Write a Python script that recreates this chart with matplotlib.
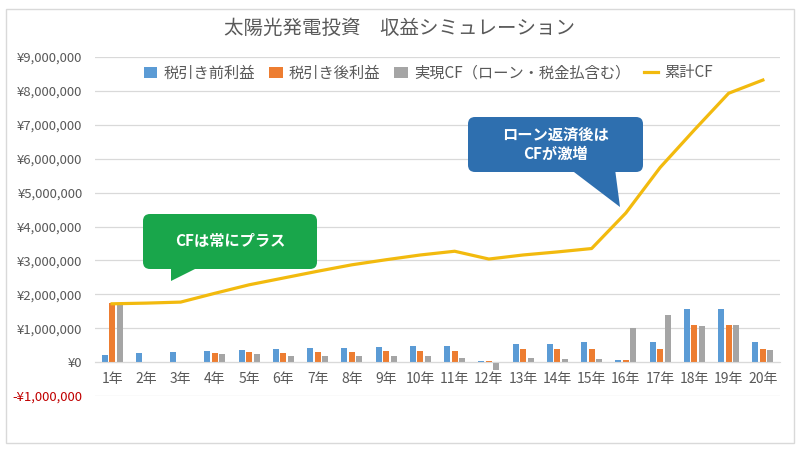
import matplotlib.pyplot as plt
import numpy as np
from matplotlib.patches import FancyBboxPatch, Polygon, Rectangle
from matplotlib.ticker import FuncFormatter

plt.rcParams['font.family'] = ['Noto Sans CJK JP', 'DejaVu Sans']

# data (yen)
years = [f"{i}年" for i in range(1, 21)]
pretax = [220000, 260000, 300000, 320000, 350000, 390000, 410000, 430000, 460000, 480000,
          480000, 20000, 520000, 540000, 580000, 70000, 580000, 1580000, 1580000, 580000]
aftertax = [1730000, 10000, 10000, 260000, 290000, 270000, 290000, 310000, 330000, 330000,
            330000, 20000, 380000, 380000, 400000, 50000, 400000, 1100000, 1100000, 400000]
real_cf = [1730000, 10000, 10000, 230000, 230000, 190000, 190000, 170000, 170000, 170000,
           130000, -220000, 110000, 90000, 90000, 1020000, 1380000, 1060000, 1080000, 370000]
cum_cf = [1720000, 1740000, 1770000, 2030000, 2280000, 2480000, 2680000, 2870000, 3020000, 3160000,
          3270000, 3040000, 3160000, 3250000, 3350000, 4400000, 5740000, 6850000, 7930000, 8320000]

labels = ['税引き前利益', '税引き後利益', '実現CF（ローン・税金払含む）', '累計CF']
colors = ['#5B9BD5', '#ED7D31', '#A5A5A5', '#F2BA0E']
text_gray = '#595959'

fig = plt.figure(figsize=(8, 4.5), dpi=100)
ax = fig.add_axes([95 / 800, 1 - 396 / 450, 685 / 800, 339 / 450])

x = np.arange(len(years))
w = 0.18
b1 = ax.bar(x - 0.22, pretax, w, color=colors[0], label=labels[0], zorder=2)
b2 = ax.bar(x, aftertax, w, color=colors[1], label=labels[1], zorder=2)
b3 = ax.bar(x + 0.22, real_cf, w, color=colors[2], label=labels[2], zorder=2)
ln, = ax.plot(x, cum_cf, color=colors[3], lw=2.3, label=labels[3], zorder=3)

ax.set_xlim(-0.5, len(years) - 0.5)
ax.set_ylim(-1000000, 9000000)
ax.set_yticks(np.arange(-1000000, 9000001, 1000000))


def yen(v, pos):
    if v < 0:
        return '-¥{:,.0f}'.format(-v)
    return '¥{:,.0f}'.format(v)


ax.yaxis.set_major_formatter(FuncFormatter(yen))
ax.grid(axis='y', color='#D9D9D9', lw=0.9, zorder=0)
for s in ['top', 'right', 'left']:
    ax.spines[s].set_visible(False)
ax.spines['bottom'].set_position(('data', 0))
ax.spines['bottom'].set_color('#D9D9D9')
ax.set_xticks(x)
ax.set_xticklabels(years)
ax.tick_params(axis='x', length=0, pad=7, labelsize=10, labelcolor=text_gray)
ax.tick_params(axis='y', length=0, pad=9, labelsize=9.5, labelcolor=text_gray)
for t in ax.get_yticklabels():
    if t.get_text().startswith('-'):
        t.set_color('#C00000')

fig.text(0.5, 1 - 28 / 450, '太陽光発電投資　収益シミュレーション', ha='center', va='center',
         fontsize=14, color=text_gray)

fig.legend([b1, b2, b3, ln], labels, loc='center', bbox_to_anchor=(428 / 800, 1 - 73 / 450),
           ncol=4, frameon=False, fontsize=11, handlelength=0.9, handleheight=0.7,
           handletextpad=0.4, columnspacing=0.9, labelcolor=text_gray)

# overlay for border and callouts (pixel coordinates)
ov = fig.add_axes([0, 0, 1, 1], zorder=5)
ov.set_xlim(0, 800)
ov.set_ylim(450, 0)
ov.axis('off')
ov.add_patch(Rectangle((6, 9), 788, 434, fill=False, ec='#D9D9D9', lw=1))

green = '#19A64B'
ov.add_patch(FancyBboxPatch((143, 214), 174, 55, boxstyle='round,pad=0,rounding_size=7',
                            fc=green, ec='none'))
ov.add_patch(Polygon([(171, 266), (201, 266), (171, 281)], closed=True, fc=green, ec='none'))
ov.text(230, 241, 'CFは常にプラス', ha='center', va='center', color='white',
        fontsize=11, fontweight='bold')

blue = '#2E6FAF'
ov.add_patch(FancyBboxPatch((468, 117), 175, 55, boxstyle='round,pad=0,rounding_size=7',
                            fc=blue, ec='none'))
ov.add_patch(Polygon([(570, 169), (615, 169), (620, 207)], closed=True, fc=blue, ec='none'))
ov.text(555, 144, 'ローン返済後は\nCFが激増', ha='center', va='center', color='white',
        fontsize=11, fontweight='bold', linespacing=1.25)

fig.savefig('out.png', dpi=100)
